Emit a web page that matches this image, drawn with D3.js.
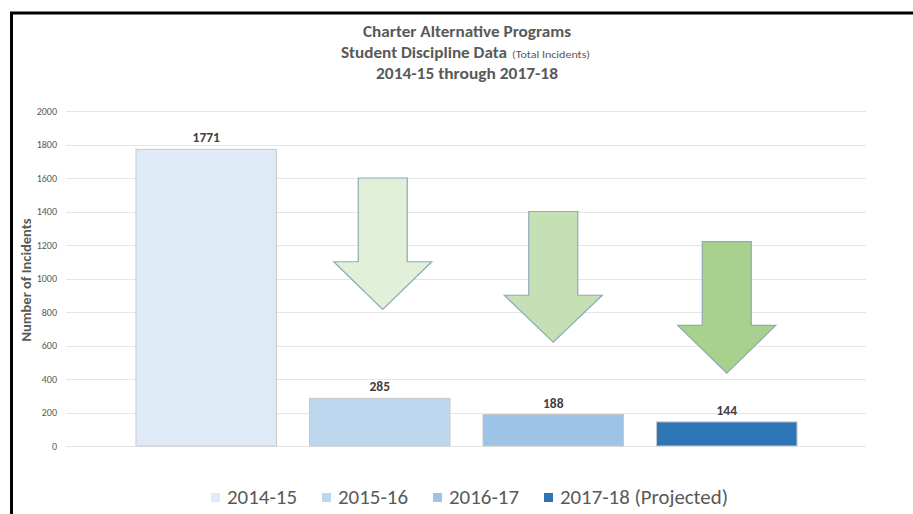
<!DOCTYPE html>
<html><head><meta charset="utf-8">
<script src="https://cdn.jsdelivr.net/npm/d3@7"></script>
<style>body{margin:0;background:#fff}svg{display:block}</style>
</head><body><svg id="c" width="913" height="514"></svg>
<script>
const seriesNames = ["2014-15", "2015-16", "2016-17", "2017-18 (Projected)"];
const incidents = [1771, 285, 188, 144];
const barColors = ["#deebf7", "#bdd7ee", "#9dc3e6", "#2e75b6"];
const yTicks = [0, 200, 400, 600, 800, 1000, 1200, 1400, 1600, 1800, 2000];
// decorative down-arrows over bars 2..4: [top, shoulder, tip] in incident units
const arrowBars = ["2015-16", "2016-17", "2017-18 (Projected)"];
const arrowTop = [1600, 1400, 1220];
const arrowShoulder = [1100, 900, 720];
const arrowTip = [815, 620, 435];
const arrowColors = ["#e2efd9", "#c5e0b4", "#a9d18e"];

const svg = d3.select("#c");
const font = "Carlito, 'Open Sans', 'Liberation Sans', sans-serif";
const txt = "#595959";

// frame
svg.append("line").attr("x1",10).attr("x2",913).attr("y1",13).attr("y2",13).attr("stroke","#000").attr("stroke-width",3);
svg.append("line").attr("x1",11.5).attr("x2",11.5).attr("y1",12).attr("y2",514).attr("stroke","#000").attr("stroke-width",3);

const y = d3.scaleLinear().domain([0, 2000]).range([446, 111]);
const x = d3.scaleBand().domain(seriesNames).range([119.5, 813.5]).paddingInner(0.19).paddingOuter(0.095);

// gridlines
svg.append("g").selectAll("line").data(yTicks).join("line")
  .attr("x1",66).attr("x2",866).attr("y1",d=>Math.round(y(d))+0.5).attr("y2",d=>Math.round(y(d))+0.5)
  .attr("stroke","#e6e6e6").attr("stroke-width",1);

// y axis labels
const yAxis = d3.axisLeft(y).tickValues(yTicks).tickFormat(d3.format("d")).tickSize(0).tickPadding(0);
const ya = svg.append("g").attr("transform","translate(57,0)").call(yAxis);
ya.select(".domain").remove();
ya.selectAll("text").attr("fill",txt).style("font-family",font).style("font-size","10px");

// bars
svg.append("g").selectAll("rect").data(incidents).join("rect")
  .attr("x",(d,i)=>x(seriesNames[i])).attr("width",x.bandwidth())
  .attr("y",d=>y(d)).attr("height",d=>y(0)-y(d))
  .attr("fill",(d,i)=>barColors[i]).attr("stroke","#c9c9c9").attr("stroke-width",1);

// value labels
svg.append("g").selectAll("text").data(incidents).join("text")
  .attr("x",(d,i)=>x(seriesNames[i])+x.bandwidth()/2).attr("y",d=>y(d)-7)
  .attr("text-anchor","middle").attr("fill","#404040")
  .style("font-family",font).style("font-size","13.5px").style("font-weight","bold").text(d=>d);

// arrows
const shaftHalf = 24.5, headHalf = 49;
svg.append("g").selectAll("path").data(arrowTop).join("path")
  .attr("d",(d,i)=>{
    const cx = x(arrowBars[i]) + x.bandwidth()/2 + (i===0?3:0);
    const t = y(d), s = y(arrowShoulder[i]), p = y(arrowTip[i]);
    return `M${cx-shaftHalf},${t}L${cx+shaftHalf},${t}L${cx+shaftHalf},${s}L${cx+headHalf},${s}L${cx},${p}L${cx-headHalf},${s}L${cx-shaftHalf},${s}Z`;
  })
  .attr("fill",(d,i)=>arrowColors[i]).attr("stroke","#8eaab6").attr("stroke-width",1.2);

// y axis title
svg.append("text").attr("transform","translate(31,280) rotate(-90)").attr("text-anchor","middle")
  .attr("fill",txt).style("font-family",font).style("font-size","14.5px").style("font-weight","bold")
  .attr("textLength",123).attr("lengthAdjust","spacingAndGlyphs")
  .text("Number of Incidents");

// titles
const t = svg.append("g").attr("fill",txt).style("font-family",font);
t.append("text").attr("x",467).attr("y",37).attr("text-anchor","middle").style("font-size","16.5px").style("font-weight","bold")
  .attr("textLength",208).attr("lengthAdjust","spacingAndGlyphs").text("Charter Alternative Programs");
t.append("text").attr("x",341).attr("y",58).style("font-size","16.5px").style("font-weight","bold")
  .attr("textLength",166).attr("lengthAdjust","spacingAndGlyphs").text("Student Discipline Data");
t.append("text").attr("x",512).attr("y",58).style("font-size","10.5px")
  .attr("textLength",78).attr("lengthAdjust","spacingAndGlyphs").text("(Total Incidents)");
t.append("text").attr("x",467).attr("y",79).attr("text-anchor","middle").style("font-size","16.5px").style("font-weight","bold")
  .attr("textLength",182).attr("lengthAdjust","spacingAndGlyphs").text("2014-15 through 2017-18");

// legend
const legX = [211, 322, 433, 544];
const legW = [70, 70, 70, 168];
const lg = svg.append("g").selectAll("g").data(seriesNames).join("g")
  .attr("transform",(d,i)=>`translate(${legX[i]},0)`);
lg.append("rect").attr("x",0).attr("y",493).attr("width",9).attr("height",9).attr("fill",(d,i)=>barColors[i]);
lg.append("text").attr("x",16).attr("y",504).attr("fill",txt).style("font-family",font).style("font-size","19.5px")
  .attr("textLength",(d,i)=>legW[i]).attr("lengthAdjust","spacingAndGlyphs").text(d=>d);
</script></body></html>
